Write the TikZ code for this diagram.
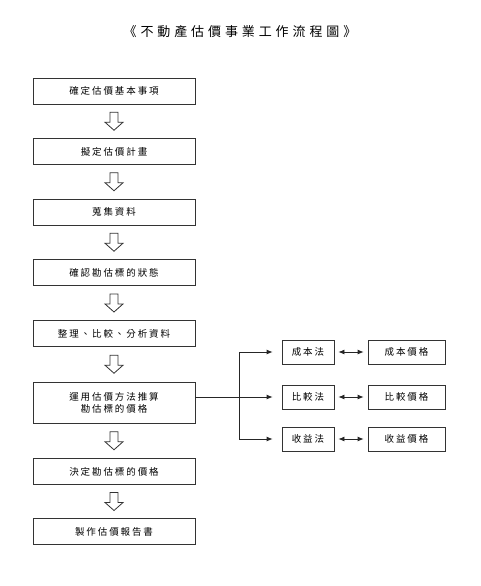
\documentclass[tikz,border=0pt]{standalone}
\usepackage{fontspec}
\newfontfamily\cjk[LetterSpace=20]{Noto Sans CJK TC}
\newfontfamily\cjktitle[LetterSpace=30]{Noto Sans CJK TC}
\usetikzlibrary{calc,arrows.meta}

\begin{document}
\begin{tikzpicture}[x=1pt,y=-1pt,font=\cjk\fontsize{9.5}{12}\selectfont,
  stepbox/.style={draw=black!80,line width=0.8pt,minimum width=162pt,minimum height=26pt,inner sep=0pt,align=center},
  methodbox/.style={draw=black!80,line width=0.8pt,minimum width=52pt,minimum height=24pt,inner sep=0pt},
  valuebox/.style={draw=black!80,line width=0.8pt,minimum width=77pt,minimum height=24pt,inner sep=0pt},
  link/.style={black!85,line width=0.8pt},
  tip/.style={-{Latex[length=6pt,width=5pt]}}]
  \useasboundingbox (0,0) rectangle (480,586);

  \node[font=\cjktitle\fontsize{13}{15}\selectfont] (title) at (240,32) {《不動產估價事業工作流程圖》};

  \node[stepbox] (s1) at (114,91) {確定估價基本事項};
  \node[stepbox] (s2) at (114,151.5) {擬定估價計畫};
  \node[stepbox] (s3) at (114,212) {蒐集資料};
  \node[stepbox] (s4) at (114,272.5) {確認勘估標的狀態};
  \node[stepbox] (s5) at (114,333.5) {整理、比較、分析資料};
  \node[stepbox,minimum height=41pt] (s6) at (114,402.5) {運用估價方法推算\\勘估標的價格};
  \node[stepbox] (s7) at (114,471.5) {決定勘估標的價格};
  \node[stepbox] (s8) at (114,531.5) {製作估價報告書};

  % hollow arrows between the steps
  \foreach \a/\b in {s1/s2,s2/s3,s3/s4,s4/s5,s5/s6,s6/s7,s7/s8}{
    \coordinate (mid) at ($(\a.south)!0.5!(\b.north)$);
    \draw[black!80,line width=0.8pt] ($(mid)+(-4,-9)$) -- ($(mid)+(4,-9)$) -- ($(mid)+(4,1)$) -- ($(mid)+(9,1)$)
      -- ($(mid)+(0,9)$) -- ($(mid)+(-9,1)$) -- ($(mid)+(-4,1)$) -- cycle;
  }

  \node[methodbox] (cost) at (308,352) {成本法};
  \node[methodbox] (comp) at (308,397) {比較法};
  \node[methodbox] (inc) at (308,439) {收益法};
  \node[valuebox] (costv) at (406.5,352) {成本價格};
  \node[valuebox] (compv) at (406.5,397) {比較價格};
  \node[valuebox] (incv) at (406.5,439) {收益價格};

  \coordinate (split) at (239,397);
  \draw[link] (s6.east |- split) -- (split);
  \draw[link,tip] (split) -- ([xshift=-9pt]comp.west);
  \draw[link,tip] (split) |- ([xshift=-9pt]cost.west);
  \draw[link,tip] (split) |- ([xshift=-9pt]inc.west);

  \foreach \m/\v in {cost/costv,comp/compv,inc/incv}{
    \draw[link,{Latex[length=6pt,width=5pt]}-{Latex[length=6pt,width=5pt]},shorten <=4pt,shorten >=4pt] (\m.east) -- (\v.west);
  }
\end{tikzpicture}
\end{document}
